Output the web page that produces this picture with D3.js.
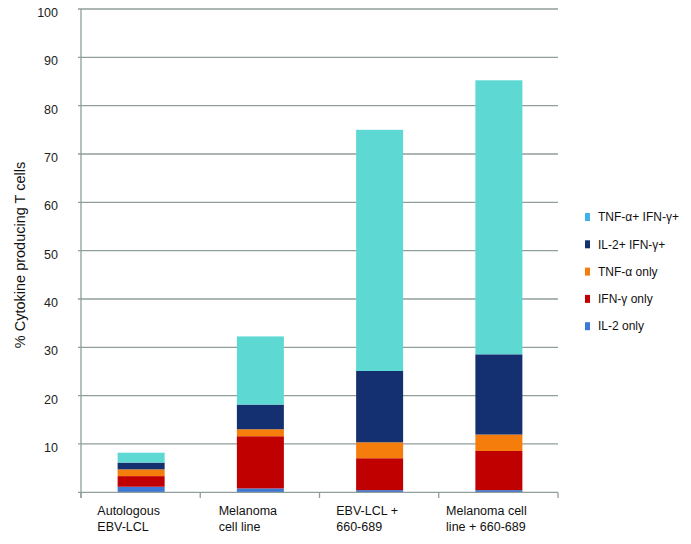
<!DOCTYPE html>
<html><head><meta charset="utf-8">
<script src="https://cdn.jsdelivr.net/npm/d3@7"></script>
<style>body{margin:0;background:#fff}svg{display:block}text{font-family:"Liberation Sans",Arial,Helvetica,sans-serif}</style>
</head><body><svg id="c" width="691" height="544"></svg>
<script>
const categories = [["Autologous","EBV-LCL"],["Melanoma","cell line"],["EBV-LCL +","660-689"],["Melanoma cell","line + 660-689"]];
const categoryKeys = ["Autologous EBV-LCL","Melanoma cell line","EBV-LCL + 660-689","Melanoma cell line + 660-689"];
const seriesNames = ["IL-2 only","IFN-γ only","TNF-α only","IL-2+ IFN-γ+","TNF-α+ IFN-γ+"];
const il2Only   = [1.15, 0.8, 0.45, 0.45];
const ifnOnly   = [2.2, 10.8, 6.6, 8.1];
const tnfOnly   = [1.4, 1.45, 3.3, 3.4];
const il2Ifn    = [1.4, 5.1, 14.75, 16.6];
const tnfIfn    = [2.05, 14.1, 49.9, 56.7];
const yTicks = [10,20,30,40,50,60,70,80,90,100];
const colors = ["#3d78d6","#c00000","#f47d0c","#143070","#5dd8d3"];
const legendColors = ["#3d78d6","#c00000","#f47d0c","#143070","#3fb0e8"];

const svg = d3.select("#c");
const x = d3.scaleBand().domain(categoryKeys).range([81,558]).paddingInner(0).paddingOuter(0);
const y = d3.scaleLinear().domain([0,100]).range([492.3,9]);
const lineCol = "#909e9c";

// gridlines
svg.append("g").selectAll("line").data(yTicks).join("line")
  .attr("x1",78).attr("x2",558).attr("y1",d=>y(d)).attr("y2",d=>y(d))
  .attr("stroke",lineCol).attr("stroke-width",1.3);

// stacked bars
const rows = categoryKeys.map((k,i)=>({key:k, s0:il2Only[i], s1:ifnOnly[i], s2:tnfOnly[i], s3:il2Ifn[i], s4:tnfIfn[i]}));
const stack = d3.stack().keys(["s0","s1","s2","s3","s4"])(rows);
const bw = 47;
svg.append("g").selectAll("g").data(stack).join("g").attr("fill",(d,i)=>colors[i])
  .selectAll("rect").data(d=>d).join("rect")
  .attr("x",d=>x(d.data.key)+x.bandwidth()/2-bw/2+0.5).attr("width",bw)
  .attr("y",d=>y(d[1])).attr("height",d=>y(d[0])-y(d[1]));

// axes
const yAxis = d3.axisLeft(y).tickValues(yTicks).tickSize(0).tickPadding(23);
const gy = svg.append("g").attr("transform","translate(81,0)").call(yAxis);
gy.select(".domain").remove();
gy.selectAll("text").attr("font-size",12.5).attr("fill","#222").attr("dy","0.6em");
svg.append("line").attr("x1",81).attr("x2",81).attr("y1",9).attr("y2",498).attr("stroke",lineCol).attr("stroke-width",1.3);
svg.append("line").attr("x1",78).attr("x2",558).attr("y1",y(0)).attr("y2",y(0)).attr("stroke",lineCol).attr("stroke-width",1.3);
const bounds = categoryKeys.map(k=>x(k)).concat([x.range()[1]]);
svg.append("g").selectAll("line").data(bounds).join("line")
  .attr("x1",d=>d).attr("x2",d=>d).attr("y1",y(0)).attr("y2",498)
  .attr("stroke",lineCol).attr("stroke-width",1.3);

// category labels
categories.forEach((lines,i)=>{
  const g = svg.append("g");
  const t = g.append("text").attr("font-size",12.5).attr("fill","#111");
  lines.forEach((l,j)=>t.append("tspan").attr("x",0).attr("y",515+j*16).text(l));
  const w = t.node().getBBox().width;
  const cx = x(categoryKeys[i]) + x.bandwidth()/2 - 12;
  g.attr("transform",`translate(${cx - w/2},0)`);
});

// y axis title
svg.append("text").attr("transform","translate(25,255) rotate(-90)")
  .attr("text-anchor","middle").attr("font-size",14.5).attr("fill","#111")
  .text("% Cytokine producing T cells");

// legend (top item first)
const legendOrder = [4,3,2,1,0];
const lg = svg.append("g");
legendOrder.forEach((si,j)=>{
  const cy = 217 + j*27.3;
  lg.append("rect").attr("x",585).attr("y",cy-4).attr("width",5).attr("height",8).attr("fill",legendColors[si]);
  lg.append("text").attr("x",598).attr("y",cy).attr("dy","0.35em").attr("font-size",12).attr("fill","#111").text(seriesNames[si]);
});
</script></body></html>
